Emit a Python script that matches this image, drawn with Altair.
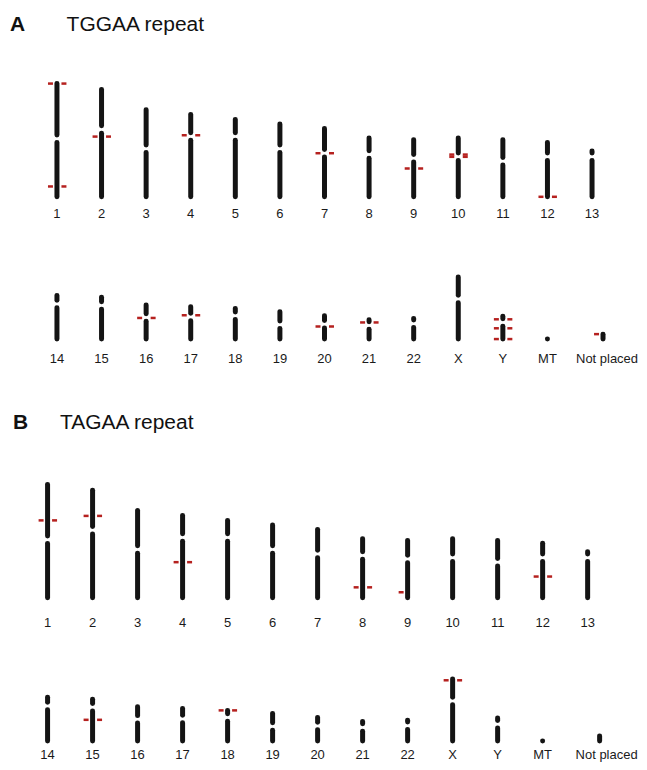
import altair as alt
import pandas as pd

# ---------------- data ----------------
ROW1 = ["1", "2", "3", "4", "5", "6", "7", "8", "9", "10", "11", "12", "13"]
ROW2 = ["14", "15", "16", "17", "18", "19", "20", "21", "22", "X", "Y", "MT", "Not placed"]
CHROMS = ROW1 + ROW2
# chromosome length (Mb) and centromere position from p-ter (Mb)
LENGTH_MB = [252, 239, 194, 183, 172, 162, 152, 131, 127, 131, 127, 121, 102,
             97, 93, 76, 72, 68, 61, 52, 43, 46, 138, 51, 0.016, 11]
CENTROMERE_MB = [123, 89, 87, 49, 38, 55, 55, 37, 41, 42, 48, 32, 13,
                 19, 18, 28, 23, 16, 29, 19, 13, 12, 49, 14, None, None]

# TGGAA repeat hits (chromosome, position from p-ter in Mb, which side marked)
TGGAA_CHROM = ["1", "1", "2", "4", "7", "9", "10", "10", "12", "16", "17", "20", "21",
               "Y", "Y", "Y", "Not placed"]
TGGAA_POS = [0, 229, 105, 46, 55, 64, 37, 42, 121, 29, 19, 24, 6, 7, 27, 51, 0]
TGGAA_SIDE = ["both"] * 16 + ["left"]

# TAGAA repeat hits
TAGAA_CHROM = ["1", "2", "4", "8", "9", "12", "15", "18", "X"]
TAGAA_POS = [80, 57, 104, 108, 115, 74, 46, 0, 3]
TAGAA_SIDE = ["both", "both", "both", "both", "left", "both", "both", "both", "both"]

TITLE_A = ("A", "TGGAA repeat")
TITLE_B = ("B", "TAGAA repeat")

# ---------------- style / layout ----------------
PX_PER_MB = 0.45
GAP_MB = 3.75 / PX_PER_MB
CHROM_COLOR = "#141414"
RED = "#b5211f"
FONT = "Liberation Sans"
ROW_W = 631
LEN = dict(zip(CHROMS, LENGTH_MB))
CEN = dict(zip(CHROMS, CENTROMERE_MB))
NP = "Not placed"


def build_row(chroms, rep_chrom, rep_pos, rep_side, H, x_range, label_dy,
              np_shift=0, np_label_shift=0, title=None, title_pos=None):
    ydom = H / PX_PER_MB
    seg_rows = []
    for c in chroms:
        L, C = LEN[c], CEN[c]
        if C is None:
            seg_rows.append({"chrom": c, "y": 0, "y2": L})
        else:
            seg_rows.append({"chrom": c, "y": 0, "y2": L - C - GAP_MB})
            seg_rows.append({"chrom": c, "y": L - C + GAP_MB, "y2": L})
    segs = pd.DataFrame(seg_rows)
    reps = pd.DataFrame({"chrom": rep_chrom, "pos": rep_pos, "side": rep_side})
    reps = reps[reps["chrom"].isin(chroms)].copy()
    reps["y"] = [LEN[c] - p for c, p in zip(reps["chrom"], reps["pos"])]
    labels = pd.DataFrame({"chrom": chroms})

    xs = alt.X("chrom:N", axis=None,
               scale=alt.Scale(type="point", domain=chroms, range=x_range, padding=0.5))
    ys = alt.Y("y:Q", axis=None, scale=alt.Scale(domain=[0, ydom], nice=False, zero=True))

    layers = []
    for is_np in (False, True):
        shift = np_shift if is_np else 0
        s = segs[(segs["chrom"] == NP) == is_np]
        if len(s):
            layers.append(alt.Chart(s).mark_rule(
                color=CHROM_COLOR, strokeWidth=5, strokeCap="round", xOffset=shift
            ).encode(x=xs, y=ys, y2="y2:Q"))
        r = reps[(reps["chrom"] == NP) == is_np]
        rl = r[r["side"].isin(["both", "left"])]
        rr = r[r["side"] == "both"]
        if len(rl):
            layers.append(alt.Chart(rl).mark_tick(
                color=RED, size=5, thickness=2.5, orient="horizontal",
                xOffset=shift - 6.5, opacity=1
            ).encode(x=xs, y=ys))
        if len(rr):
            layers.append(alt.Chart(rr).mark_tick(
                color=RED, size=5, thickness=2.5, orient="horizontal",
                xOffset=shift + 7, opacity=1
            ).encode(x=xs, y=ys))
        lb = labels[(labels["chrom"] == NP) == is_np]
        if len(lb):
            layers.append(alt.Chart(lb).mark_text(
                font=FONT, fontSize=13, color="#1a1a1a", baseline="middle",
                align="center", dx=np_label_shift if is_np else 0
            ).encode(x=xs, y=alt.value(H + label_dy), text="chrom:N"))

    if title is not None:
        (lx, tx, ty) = title_pos
        tdf = pd.DataFrame({"letter": [title[0]], "name": [title[1]]})
        layers.append(alt.Chart(tdf).mark_text(
            font=FONT, fontSize=21, fontWeight="bold", align="left",
            baseline="alphabetic", color="#111"
        ).encode(x=alt.value(lx), y=alt.value(ty), text="letter:N"))
        layers.append(alt.Chart(tdf).mark_text(
            font=FONT, fontSize=21, align="left", baseline="alphabetic", color="#111"
        ).encode(x=alt.value(tx), y=alt.value(ty), text="name:N"))

    return alt.layer(*layers).properties(width=ROW_W, height=H)


rangeA = [26.7, 607.3]
rangeB = [17.1, 603.1]

a1 = build_row(ROW1, TGGAA_CHROM, TGGAA_POS, TGGAA_SIDE, 188.5, rangeA, 17.5,
               title=TITLE_A, title_pos=(2, 58.7, 22.7))
a2 = build_row(ROW2, TGGAA_CHROM, TGGAA_POS, TGGAA_SIDE, 142, rangeA, 19.5,
               np_shift=11, np_label_shift=15)
b1 = build_row(ROW1, TAGAA_CHROM, TAGAA_POS, TAGAA_SIDE, 259, rangeB, 25,
               title=TITLE_B, title_pos=(5, 52, 89.8))
b2 = build_row(ROW2, TAGAA_CHROM, TAGAA_POS, TAGAA_SIDE, 143.5, rangeB, 14.5,
               np_shift=12, np_label_shift=19)

chart = alt.vconcat(a1, a2, b1, b2, spacing=0, bounds="flush").properties(
    padding=0
).configure_view(stroke=None)

chart.save("out.html", embed_options={"renderer": "svg", "actions": False})
